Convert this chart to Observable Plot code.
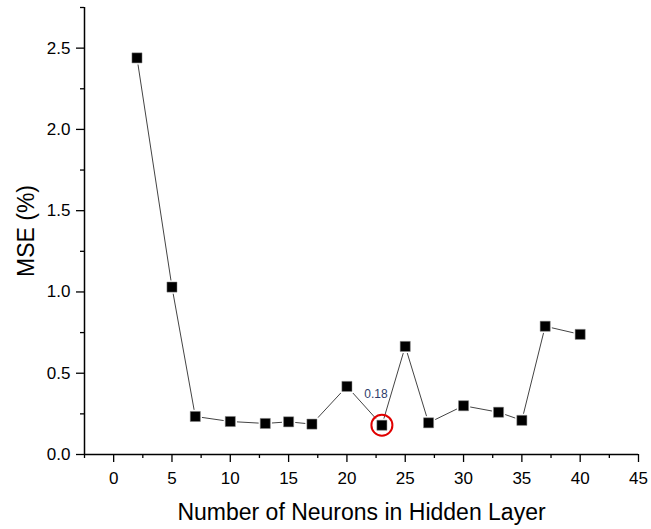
<!DOCTYPE html>
<html>
<head>
<meta charset="utf-8">
<script src="https://cdn.jsdelivr.net/npm/d3@7"></script>
<script src="https://cdn.jsdelivr.net/npm/@observablehq/plot@0.6"></script>
<style>
  html, body { margin: 0; padding: 0; background: #fff; }
  #chart svg { font-family: "Liberation Sans", Arial, sans-serif; }
  #chart svg g[aria-label="x-axis tick label"],
  #chart svg g[aria-label="y-axis tick label"],
  #chart svg g[aria-label="x-axis tick label"] text,
  #chart svg g[aria-label="y-axis tick label"] text { font-size: 17px !important; fill: #000; }
  #chart svg g[aria-label="x-axis label"],
  #chart svg g[aria-label="y-axis label"],
  #chart svg g[aria-label="x-axis label"] text,
  #chart svg g[aria-label="y-axis label"] text { font-size: 23px !important; fill: #000; }
</style>
</head>
<body>
<div id="chart"></div>
<script>
const neurons = [2, 5, 7, 10, 13, 15, 17, 20, 23, 25, 27, 30, 33, 35, 37, 40];
const mse = [2.44, 1.03, 0.234, 0.203, 0.191, 0.201, 0.187, 0.419, 0.18, 0.665, 0.195, 0.30, 0.26, 0.21, 0.789, 0.739];
const xMajorTicks = [0, 5, 10, 15, 20, 25, 30, 35, 40, 45];
const xMinorTicks = [-2.5, 2.5, 7.5, 12.5, 17.5, 22.5, 27.5, 32.5, 37.5, 42.5];
const yMajorTicks = [0, 0.5, 1.0, 1.5, 2.0, 2.5];
const yMinorTicks = [0.25, 0.75, 1.25, 1.75, 2.25, 2.75];
const highlight = [{x: 23, y: 0.18, label: "0.18"}];

const data = neurons.map((n, i) => ({x: n, y: mse[i]}));

const chart = Plot.plot({
  width: 651,
  height: 529,
  marginLeft: 84,
  marginRight: 13,
  marginTop: 7,
  marginBottom: 75,
  style: {fontFamily: '"Liberation Sans", Arial, sans-serif', background: "#fff", color: "#000"},
  x: {domain: [-2.5, 45], axis: null},
  y: {domain: [0, 2.75], axis: null},
  marks: [
    Plot.line(data, {x: "x", y: "y", stroke: "#444", strokeWidth: 1}),
    Plot.dot(data, {x: "x", y: "y", symbol: "square", r: 7.5, fill: "#fff"}),
    Plot.dot(data, {x: "x", y: "y", symbol: "square", r: 5.7, fill: "#000", stroke: "#888", strokeWidth: 0.5}),
    Plot.dot(highlight, {x: "x", y: "y", r: 10.5, stroke: "#e00000", strokeWidth: 2, fill: "none"}),
    Plot.text(highlight, {x: "x", y: "y", text: "label", dx: -6, dy: -31, fill: "#2e3d6b", fontSize: 12}),
    Plot.axisX({ticks: xMajorTicks, tickSize: 8, tickPadding: 9, fontSize: 17, stroke: "#000", strokeWidth: 1.3,
      label: "Number of Neurons in Hidden Layer", labelAnchor: "center", labelArrow: false, labelOffset: 65}),
    Plot.axisX({ticks: xMinorTicks, tickSize: 4, tickFormat: () => "", stroke: "#000", strokeWidth: 1.3, label: null}),
    Plot.axisY({ticks: yMajorTicks, tickSize: 8, tickPadding: 6, fontSize: 17, tickFormat: d3.format(".1f"), stroke: "#000", strokeWidth: 1.3,
      label: "MSE (%)", labelAnchor: "center", labelArrow: false, labelOffset: 67}),
    Plot.axisY({ticks: yMinorTicks, tickSize: 4, tickFormat: () => "", stroke: "#000", strokeWidth: 1.3, label: null}),
    Plot.ruleX([-2.5], {stroke: "#000", strokeWidth: 1.5}),
    Plot.ruleY([0], {stroke: "#000", strokeWidth: 1.5})
  ]
});
document.getElementById("chart").appendChild(chart);
</script>
</body>
</html>
